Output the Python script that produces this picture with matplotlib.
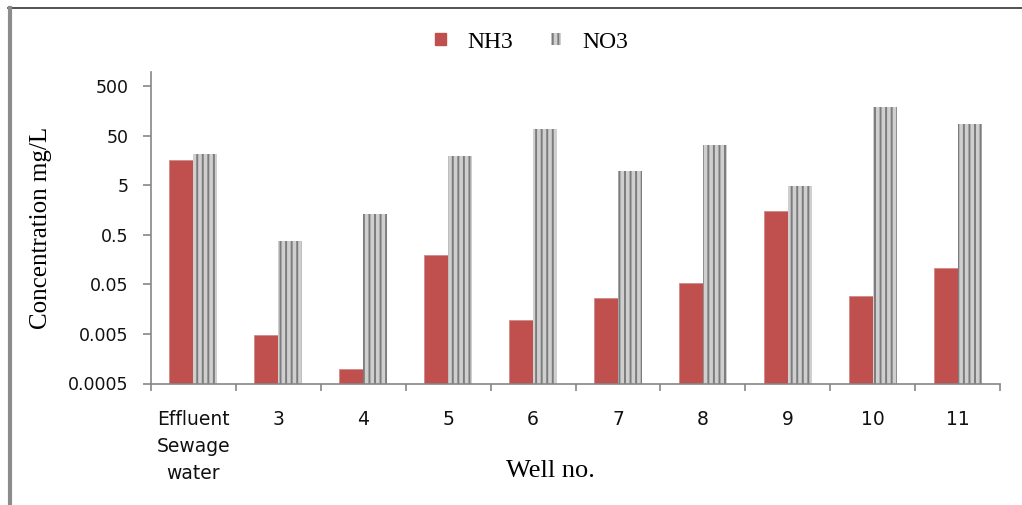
import matplotlib
matplotlib.use("Agg")
import matplotlib.pyplot as plt
from matplotlib.patches import Patch
from matplotlib.lines import Line2D
import numpy as np

# datos (mg/L, escala log)
pozos = ["Effluent\nSewage\nwater", "3", "4", "5", "6", "7", "8", "9", "10", "11"]
nh3 = [16.1, 0.0047, 0.00097, 0.198, 0.0096, 0.027, 0.052, 1.53, 0.0295, 0.108]
no3 = [21.3, 0.38, 1.31, 19.4, 67.0, 9.7, 32.3, 4.8, 186.0, 87.0]
y_ticks = [0.0005, 0.005, 0.05, 0.5, 5, 50, 500]
y_tick_labels = ["0.0005", "0.005", "0.05", "0.5", "5", "50", "500"]

rojo = "#C0504D"
gris_claro = "#CFCFCF"
gris_oscuro = "#7C7C7C"
eje = "#868686"

plt.rcParams["hatch.linewidth"] = 1.4

fig = plt.figure(figsize=(10.22, 5.05), dpi=100)
ax = fig.add_axes([151 / 1022, 1 - 383.5 / 505, (1000 - 151) / 1022, (383.5 - 72) / 505])

x = np.arange(len(pozos))
ancho = 0.283
ax.bar(x - ancho / 2, nh3, width=ancho, color=rojo, edgecolor="#D08A88", linewidth=0.6, log=True)
ax.bar(x + ancho / 2, no3, width=ancho, color=gris_claro, edgecolor=gris_oscuro,
       hatch="|||", linewidth=0, log=True)

ax.set_yscale("log")
ax.set_ylim(0.0005, 959)
ax.set_xlim(-0.5, len(pozos) - 0.5)
ax.set_yticks(y_ticks)
ax.set_yticklabels(y_tick_labels)
ax.yaxis.set_minor_locator(matplotlib.ticker.NullLocator())
ax.set_xticks(x)
ax.set_xticklabels(pozos, linespacing=1.55)
ax.set_xticks(np.arange(-0.5, len(pozos), 1.0), minor=True)

for s in ["top", "right"]:
    ax.spines[s].set_visible(False)
for s in ["left", "bottom"]:
    ax.spines[s].set_color(eje)
    ax.spines[s].set_linewidth(1.2)

ax.tick_params(axis="y", which="major", direction="out", length=6, width=1.2, color=eje,
               pad=10, labelsize=12.5, labelcolor="#111111")
ax.tick_params(axis="x", which="major", length=0, pad=19, labelsize=13.5, labelcolor="#111111")
ax.tick_params(axis="x", which="minor", direction="out", length=5, width=1.2, color=eje)
for t in ax.get_yticklabels():
    t.set_family("DejaVu Sans")
for t in ax.get_xticklabels():
    t.set_family("DejaVu Sans")
    t.set_verticalalignment("top")

ax.set_ylabel("Concentration mg/L", family="Liberation Serif", fontsize=18, labelpad=12)
ax.set_xlabel("Well no.", family="Liberation Serif", fontsize=19)
ax.xaxis.set_label_coords((550 - 151) / 849, -(460 - 383.5) / 311.5)

handles = [
    Patch(facecolor=rojo, edgecolor=rojo, label="NH3"),
    Patch(facecolor=gris_claro, edgecolor=gris_oscuro, hatch="|||", linewidth=0, label="NO3"),
]
fig.legend(handles=handles, loc="center", bbox_to_anchor=(532 / 1022, 1 - 42 / 505), ncol=2,
           frameon=False, prop={"family": "Liberation Serif", "size": 17},
           handlelength=0.45, handleheight=0.45, handletextpad=0.9, columnspacing=1.6)

# borde del área del gráfico (recortado a la derecha y abajo)
fig.add_artist(Line2D([8 / 1022, 1.0], [1 - 8 / 505, 1 - 8 / 505], transform=fig.transFigure,
                      color="#333333", linewidth=1.2))
fig.add_artist(Line2D([10 / 1022, 10 / 1022], [0.0, 1 - 8 / 505], transform=fig.transFigure,
                      color="#8C8C8C", linewidth=3))

fig.savefig("out.png", dpi=100, facecolor="white")
